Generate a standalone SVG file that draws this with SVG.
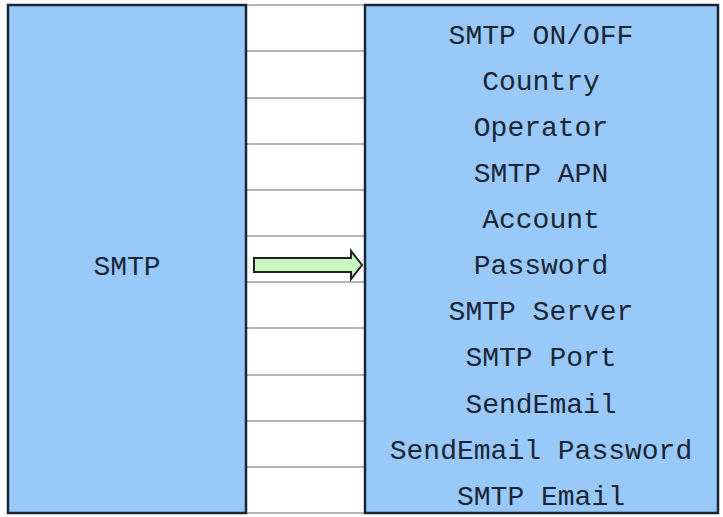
<svg xmlns="http://www.w3.org/2000/svg" width="723" height="517" viewBox="0 0 723 517">
<style>
.box{fill:#99c9f8;stroke:#1a2535;stroke-width:2.5}
.t{font-family:"Liberation Mono",monospace;font-size:28px;fill:#1a2535;text-anchor:middle}
.g{stroke:#b5b5b5;stroke-width:2}
</style>
<rect width="723" height="517" fill="#fff"/>
<g id="rows">
<line class="g" x1="246" y1="5" x2="365" y2="5"/>
<line class="g" x1="246" y1="51" x2="365" y2="51"/>
<line class="g" x1="246" y1="98" x2="365" y2="98"/>
<line class="g" x1="246" y1="144" x2="365" y2="144"/>
<line class="g" x1="246" y1="190" x2="365" y2="190"/>
<line class="g" x1="246" y1="236" x2="365" y2="236"/>
<line class="g" x1="246" y1="282" x2="365" y2="282"/>
<line class="g" x1="246" y1="328" x2="365" y2="328"/>
<line class="g" x1="246" y1="375" x2="365" y2="375"/>
<line class="g" x1="246" y1="421" x2="365" y2="421"/>
<line class="g" x1="246" y1="467" x2="365" y2="467"/>
<line class="g" x1="246" y1="513" x2="365" y2="513"/>
</g>
<g id="smtp">
<rect class="box" x="8" y="5" width="238" height="508"/>
<text class="t" x="127" y="275">SMTP</text>
</g>
<g id="settings">
<rect class="box" x="365" y="5" width="353" height="508"/>
<text class="t" x="541" y="44">SMTP ON/OFF</text>
<text class="t" x="541" y="90">Country</text>
<text class="t" x="541" y="136">Operator</text>
<text class="t" x="541" y="182">SMTP APN</text>
<text class="t" x="541" y="228">Account</text>
<text class="t" x="541" y="274">Password</text>
<text class="t" x="541" y="320">SMTP Server</text>
<text class="t" x="541" y="366">SMTP Port</text>
<text class="t" x="541" y="413">SendEmail</text>
<text class="t" x="541" y="459">SendEmail Password</text>
<text class="t" x="541" y="505">SMTP Email</text>
</g>
<g id="connectors">
<path d="M254 258 H351 V251 L362 265 L351 279 V272 H254 Z" fill="#c8f5c0" stroke="#222" stroke-width="2"/>
</g>
</svg>
